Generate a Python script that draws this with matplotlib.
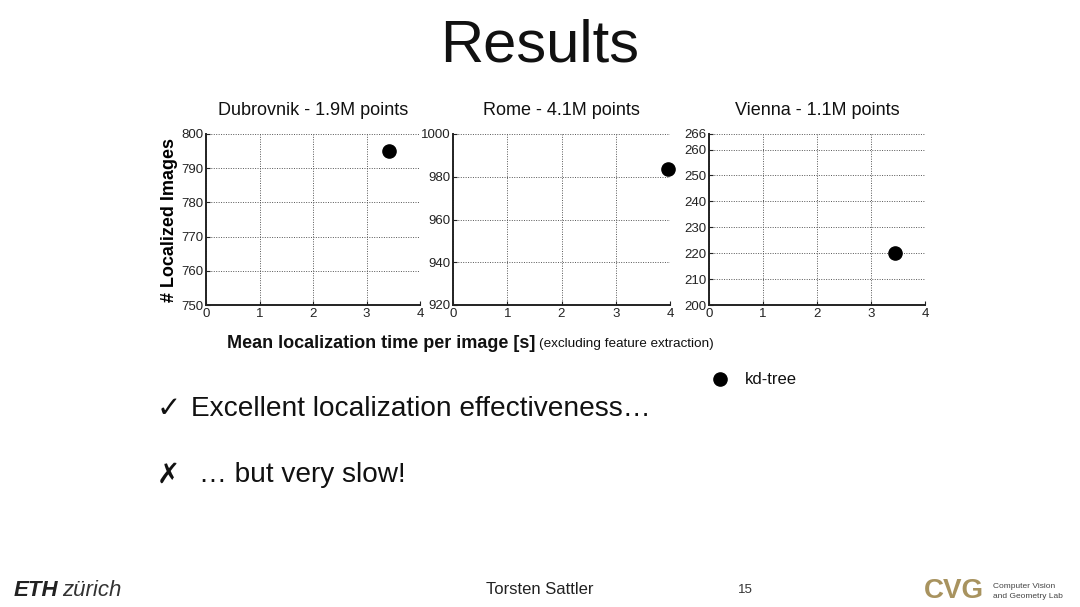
import matplotlib
matplotlib.use("Agg")
import matplotlib.pyplot as plt

plt.rcParams['font.family'] = ['Liberation Sans', 'DejaVu Sans']

W, H = 1080, 607
DPI = 100

titles = ["Dubrovnik - 1.9M points", "Rome - 4.1M points", "Vienna - 1.1M points"]
x_vals = [3.42, 3.96, 3.44]
y_vals = [795, 983.5, 220]
x_ticks = [0, 1, 2, 3, 4]
y_ticks = [[750, 760, 770, 780, 790, 800],
           [920, 940, 960, 980, 1000],
           [200, 210, 220, 230, 240, 250, 260, 266]]
y_limits = [(750, 800), (920, 1000), (200, 266)]
series_name = "kd-tree"

# axes boxes in pixels: left, right, top, bottom
boxes = [(206, 420, 134, 305), (453, 670, 134, 305), (709, 925, 134, 305)]

fig = plt.figure(figsize=(W / DPI, H / DPI), dpi=DPI)
fig.patch.set_facecolor('white')

def fx(px):
    return px / W

def fy(py):
    return 1 - py / H

for i in range(3):
    l, r, t, b = boxes[i]
    ax = fig.add_axes([fx(l), fy(b), (r - l) / W, (b - t) / H])
    ax.plot([x_vals[i]], [y_vals[i]], 'o', color='black', markersize=9.5, clip_on=False, zorder=5)
    ax.set_xlim(0, 4)
    ax.set_ylim(*y_limits[i])
    ax.set_xticks(x_ticks)
    ax.set_yticks(y_ticks[i])
    ax.tick_params(direction='in', length=3, labelsize=9.5, pad=2, colors='#222222')
    ax.grid(True, linestyle=(0, (1, 1.5)), color='#555555', linewidth=0.7)
    for s in ['top', 'right']:
        ax.spines[s].set_visible(False)
    for s in ['left', 'bottom']:
        ax.spines[s].set_linewidth(1.4)
        ax.spines[s].set_color('#222222')
    ax.set_title(titles[i], fontsize=13, pad=14, color='#111111')
    if i == 0:
        ax.set_ylabel("# Localized Images", fontsize=13, fontweight='bold', labelpad=2)

# Title
fig.text(fx(540), fy(46), "Results", ha='center', va='center', fontsize=43, color='#111111')

# X label
fig.text(fx(227), fy(343), "Mean localization time per image [s]", ha='left', va='center',
         fontsize=13, fontweight='bold', color='#111111')
fig.text(fx(539), fy(344), "(excluding feature extraction)", ha='left', va='center',
         fontsize=9.7, color='#111111')

# Legend
fig.lines.append(matplotlib.lines.Line2D([fx(720)], [fy(379)], marker='o', color='black',
                                         markersize=9.5, transform=fig.transFigure))
fig.text(fx(745), fy(379), series_name, ha='left', va='center', fontsize=12, color='#111111')

# Bullets
fig.text(fx(157), fy(409), "\u2713", ha='left', va='center', fontsize=21, color='#111111',
         family=['DejaVu Sans'], fontweight='bold')
fig.text(fx(191), fy(409), "Excellent localization effectiveness\u2026", ha='left', va='center',
         fontsize=20.2, color='#111111')
fig.text(fx(157), fy(475), "\u2717", ha='left', va='center', fontsize=20, color='#111111',
         family=['DejaVu Sans'], fontweight='bold')
fig.text(fx(199), fy(475), "\u2026 but very slow!", ha='left', va='center',
         fontsize=20.2, color='#111111')

# Footer
fig.text(fx(540), fy(589), "Torsten Sattler", ha='center', va='center', fontsize=12, color='#222222')
fig.text(fx(745), fy(590), "15", ha='center', va='center', fontsize=9.5, color='#333333')
fig.text(fx(14), fy(591), "ETH", ha='left', va='center', fontsize=16, fontweight='bold',
         style='italic', color='#222222')
fig.text(fx(62), fy(591), "zürich", ha='left', va='center', fontsize=16,
         style='italic', color='#333333')
fig.text(fx(924), fy(591), "CVG", ha='left', va='center', fontsize=20, fontweight='bold',
         color='#a8935f')
fig.text(fx(993), fy(586), "Computer Vision", ha='left', va='center', fontsize=6, color='#444444')
fig.text(fx(993), fy(596), "and Geometry Lab", ha='left', va='center', fontsize=6, color='#444444')

fig.savefig("out.png", dpi=DPI, facecolor='white')
